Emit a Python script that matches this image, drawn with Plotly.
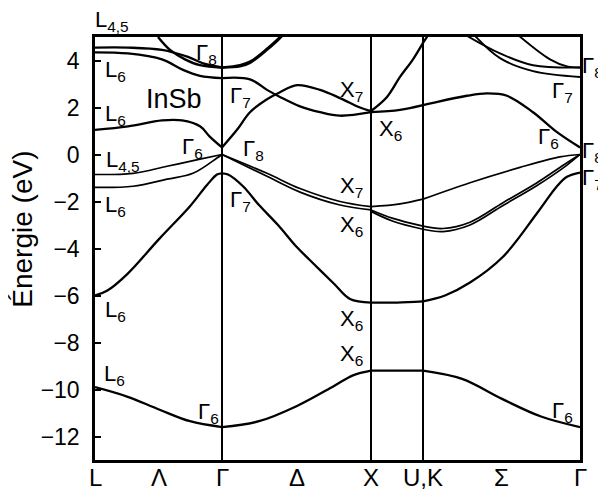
import plotly.graph_objects as go

# k positions along the path L - Γ - X - U,K - Γ (arbitrary units)
nodes = [0, 127, 276, 328, 485]
node_labels = ["L", "Λ", "Γ", "Δ", "X", "U,K", "Σ", "Γ"]

# bands: k points and energies (eV)
k_s = [0, 32, 64, 95, 127, 164, 202, 239, 258, 276, 302, 328, 367, 407, 446, 485]
e_s = [-9.9, -10.3, -10.85, -11.35, -11.6, -11.35, -10.7, -9.85, -9.4, -9.2, -9.2, -9.2, -9.55, -10.4, -11.15, -11.6]

k_so = [0, 12, 32, 64, 95, 112, 122, 127, 133, 148, 164, 183, 202, 215, 239, 255, 276, 302, 328, 350, 375, 408, 442, 462, 472, 485]
e_so = [-6.0, -5.8, -5.1, -3.6, -2.2, -1.3, -0.85, -0.8, -0.85, -1.35, -2.15, -3.0, -3.95, -4.5, -5.5, -6.15, -6.3, -6.3, -6.25, -6.0, -5.45, -4.35, -2.5, -1.35, -0.95, -0.77]

k_a = [0, 38, 72, 105, 127, 172, 205, 245, 276, 305, 328, 375, 425, 465, 485]
e_a = [-0.85, -0.8, -0.5, -0.2, 0.0, -0.8, -1.45, -2.0, -2.22, -2.1, -1.9, -1.2, -0.55, -0.1, 0.0]

k_b = [0, 38, 72, 98, 122, 127, 172, 205, 245, 276, 298, 328, 348, 375, 408, 442, 472, 485]
e_b = [-1.4, -1.35, -1.05, -0.8, -0.15, 0.0, -0.93, -1.6, -2.15, -2.36, -2.72, -3.05, -3.15, -2.88, -2.05, -1.2, -0.35, 0.0]

k_b2 = [276, 298, 328, 348, 375, 408, 442, 472, 485]
e_b2 = [-2.42, -2.84, -3.18, -3.28, -3.0, -2.17, -1.32, -0.45, 0.0]

k_c1 = [0, 33, 67, 87, 105, 115, 127, 142, 155, 172, 185, 202, 225, 245, 265, 276, 292, 305, 318, 328, 335]
e_c1 = [1.05, 1.2, 1.45, 1.45, 1.2, 0.75, 0.3, 1.05, 1.8, 2.35, 2.65, 2.95, 2.75, 2.4, 2.0, 1.85, 2.45, 3.3, 4.05, 4.75, 5.2]

k_c2 = [0, 33, 67, 88, 105, 127, 155, 172, 185, 205, 225, 245, 276, 305, 328, 338, 372, 392, 412, 438, 462, 485]
e_c2 = [4.35, 4.3, 4.05, 3.6, 3.35, 3.25, 3.2, 2.75, 2.45, 2.05, 1.8, 1.65, 1.8, 1.9, 2.1, 2.2, 2.5, 2.6, 2.5, 1.8, 0.95, 0.3]

k_c3 = [0, 33, 67, 93, 110, 127, 145, 155, 172, 185, 190]
e_c3 = [4.55, 4.55, 4.45, 4.15, 3.85, 3.7, 3.75, 3.9, 4.45, 4.95, 5.2]

k_c4 = [63, 75, 90, 105, 127, 145, 155, 172, 185, 192]
e_c4 = [5.0, 4.45, 4.05, 3.8, 3.7, 3.8, 3.95, 4.5, 5.0, 5.3]

k_u1 = [372, 405, 438, 485]
e_u1 = [5.05, 4.3, 3.8, 3.7]
k_u2 = [380, 405, 438, 485]
e_u2 = [5.05, 4.1, 3.55, 3.3]
k_u3 = [424, 455, 472, 485]
e_u3 = [5.05, 4.05, 3.75, 3.7]

bands = [
    (k_s, e_s, 2.3), (k_so, e_so, 2.3), (k_a, e_a, 1.7), (k_b, e_b, 1.7), (k_b2, e_b2, 1.7),
    (k_c1, e_c1, 2.3), (k_c2, e_c2, 2.3), (k_c3, e_c3, 2.4), (k_c4, e_c4, 2.4),
    (k_u1, e_u1, 1.9), (k_u2, e_u2, 1.9), (k_u3, e_u3, 1.9),
]

labels = [
    ("L<sub>4,5</sub>", 17, 5.68), ("Γ<sub>8</sub>", 111, 4.26), ("L<sub>6</sub>", 20, 3.57),
    ("L<sub>6</sub>", 20, 1.7), ("Γ<sub>6</sub>", 97, 0.26), ("L<sub>4,5</sub>", 28, -0.26),
    ("L<sub>6</sub>", 20, -2.2), ("Γ<sub>7</sub>", 145, 2.43), ("Γ<sub>8</sub>", 158, 0.21),
    ("Γ<sub>7</sub>", 145, -2.0), ("X<sub>7</sub>", 256, 2.72), ("X<sub>6</sub>", 295, 1.06),
    ("X<sub>7</sub>", 256, -1.4), ("X<sub>6</sub>", 256, -3.06), ("L<sub>6</sub>", 20, -6.64),
    ("X<sub>6</sub>", 256, -7.06), ("X<sub>6</sub>", 256, -8.55), ("L<sub>6</sub>", 19, -9.4),
    ("Γ<sub>6</sub>", 113, -10.98), ("Γ<sub>6</sub>", 467, -10.94), ("Γ<sub>7</sub>", 467, 2.68),
    ("Γ<sub>6</sub>", 453, 0.72), ("Γ<sub>8</sub>", 497, 3.74), ("Γ<sub>8</sub>", 497, 0.09),
    ("Γ<sub>7</sub>", 497, -1.06),
]

FONT = "Liberation Sans, Arial, sans-serif"
XR = [0, 485]
YR = [-13, 5]
fig = go.Figure()

# split each band at the symmetry points so cusps stay sharp
for ks, es, w in bands:
    for a, b in zip(nodes[:-1], nodes[1:]):
        seg = [(k, e) for k, e in zip(ks, es) if a <= k <= b]
        if len(seg) < 2:
            continue
        fig.add_trace(go.Scatter(x=[p[0] for p in seg], y=[p[1] for p in seg], mode="lines",
                                 line=dict(color="black", width=w, shape="spline", smoothing=1),
                                 hoverinfo="skip", showlegend=False))

for n in nodes[1:-1]:
    fig.add_shape(type="line", x0=n, x1=n, y0=0, y1=1, xref="x", yref="paper",
                  line=dict(color="black", width=2))


def px(x):
    return (x - XR[0]) / (XR[1] - XR[0])


def py(y):
    return (y - YR[0]) / (YR[1] - YR[0])


def label(x, y, txt, size, **kw):
    # paper coordinates so labels outside the axes ranges are still drawn
    fig.add_annotation(x=px(x), y=py(y), xref="paper", yref="paper", text=txt, showarrow=False,
                       xanchor="center", yanchor="middle",
                       font=dict(size=size, color="black", family=FONT), **kw)


for txt, x, y in labels:
    label(x, y, txt, 22)

label(79, 2.38, "InSb", 27)
label(-72, -3.2, "Énergie (eV)", 28, textangle=-90)

mids = [nodes[0], (nodes[0] + nodes[1]) / 2, nodes[1], (nodes[1] + nodes[2]) / 2, nodes[2],
        nodes[3], (nodes[3] + nodes[4]) / 2, nodes[4]]
for m, t in zip(mids, node_labels):
    label(m, -13.75, t, 24)

fig.update_xaxes(range=XR, showgrid=False, zeroline=False, showline=True, mirror=True,
                 linecolor="black", linewidth=2.5, ticks="", showticklabels=False, automargin=False)
fig.update_yaxes(range=YR, showgrid=False, zeroline=False, showline=True, mirror=True,
                 linecolor="black", linewidth=2.5, ticks="inside", ticklen=6, tickwidth=2,
                 tickcolor="black", tickvals=list(range(-12, 5, 2)), ticklabelstandoff=8,
                 tickfont=dict(size=23, color="black", family=FONT), automargin=False)

# the page body adds an 8px offset, so margins are trimmed on top/left
fig.update_layout(width=606, height=491, margin=dict(l=87, r=34, t=29, b=39, autoexpand=False),
                  plot_bgcolor="white", paper_bgcolor="white")

fig.write_html("out.html")
